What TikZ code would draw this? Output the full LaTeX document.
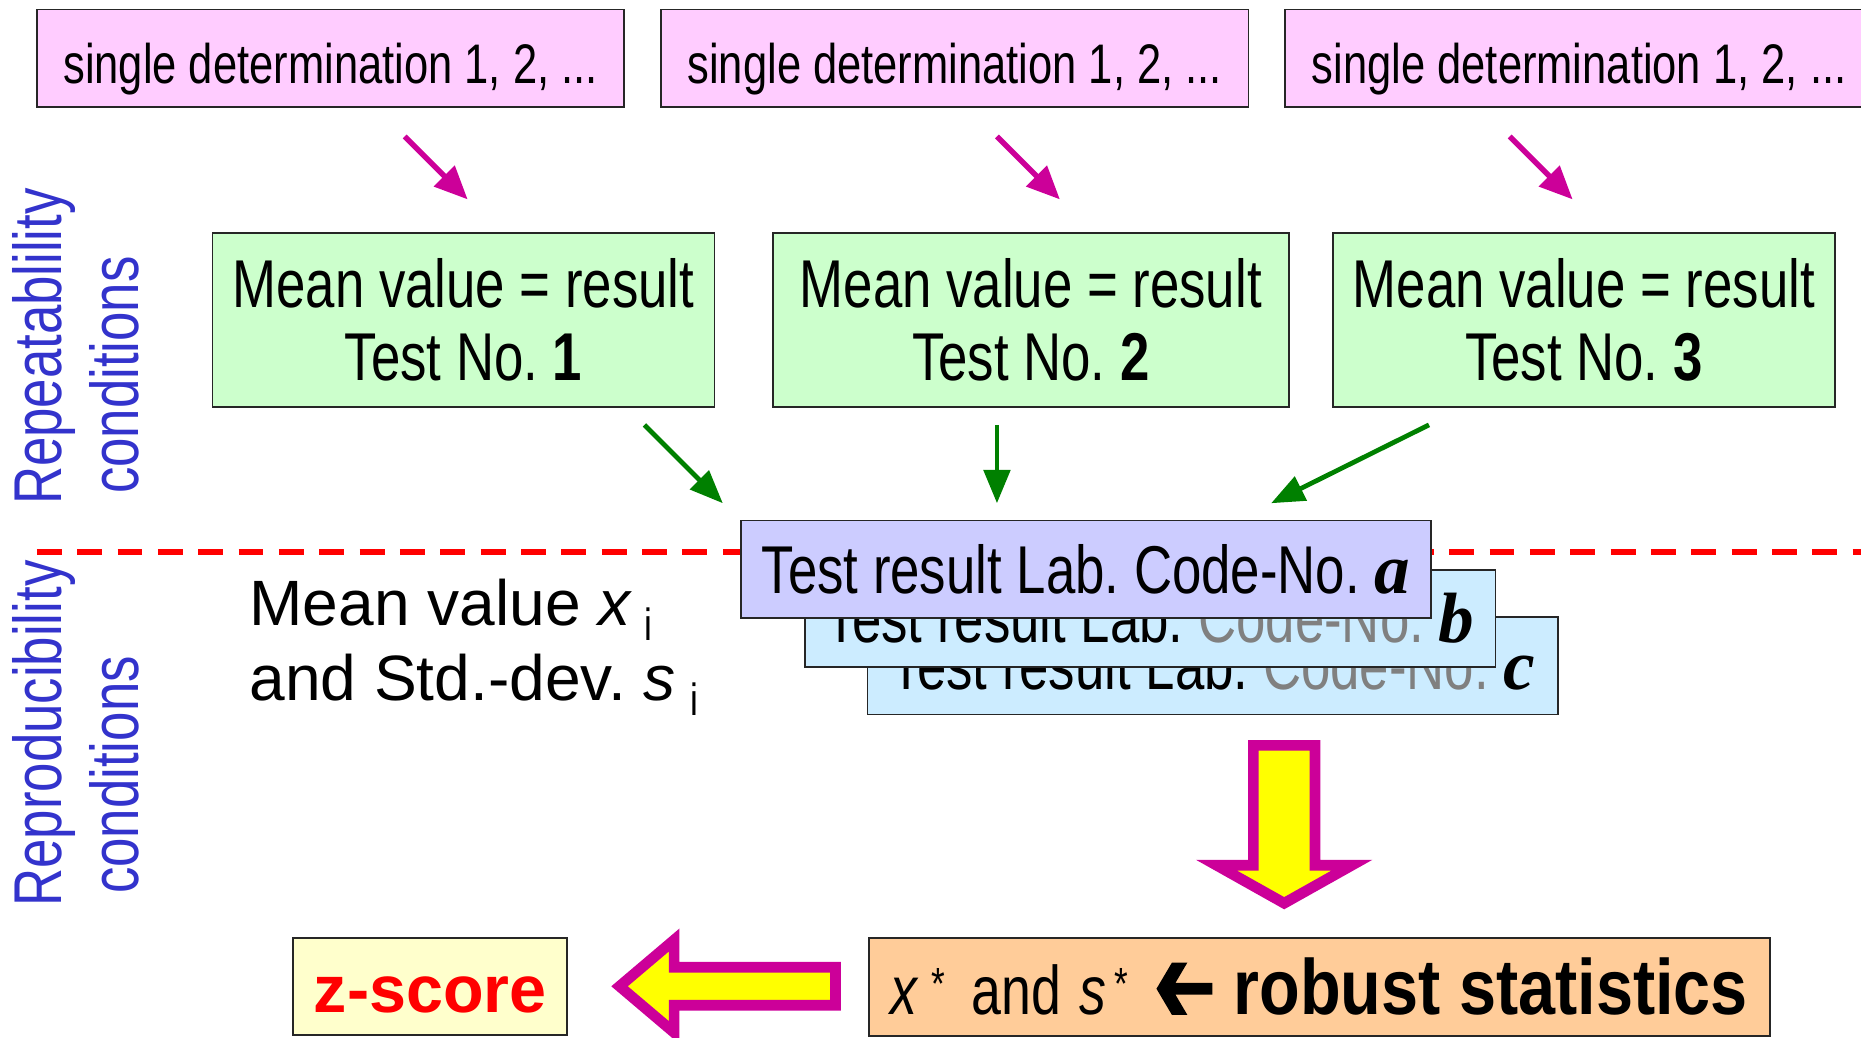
\documentclass[tikz,border=0pt]{standalone}
\usepackage{fontspec}
\setmainfont{Liberation Sans}
\newfontfamily\nf[FakeStretch=0.78]{Liberation Sans}
\newfontfamily\nfb[FakeStretch=0.85]{Liberation Sans Bold}
\newfontfamily\sbi{Liberation Serif}
\usetikzlibrary{arrows.meta,calc}
\definecolor{pinkf}{HTML}{FFCCFF}
\definecolor{greenf}{HTML}{CCFFCC}
\definecolor{lavf}{HTML}{CCCCFF}
\definecolor{bluef}{HTML}{CCECFF}
\definecolor{magc}{HTML}{CC0099}
\definecolor{grnc}{HTML}{008000}
\definecolor{bluet}{HTML}{3333CC}
\definecolor{yelf}{HTML}{FFFFCC}
\definecolor{orf}{HTML}{FFCC99}
\definecolor{yel}{HTML}{FFFF00}
\definecolor{redc}{HTML}{FF0000}
\frenchspacing
\tikzset{
  boxbase/.style={draw=black!85, line width=1.5pt, inner sep=0pt, outer sep=0pt, align=center},
  pinkbox/.style={boxbase, fill=pinkf, minimum width=495pt, minimum height=82pt, font=\nf\fontsize{47}{52}\selectfont},
  greenbox/.style={boxbase, fill=greenf, minimum height=147pt, font=\nf\fontsize{57}{62}\selectfont},
  labbox/.style={boxbase, minimum width=582pt, minimum height=82pt, font=\nf\fontsize{57}{62}\selectfont},
  magarrow/.style={draw=magc, line width=4.5pt, -{Triangle[length=28pt,width=24pt]}},
  grnarrow/.style={draw=grnc, line width=4pt, -{Triangle[length=28pt,width=22pt]}},
  sidelabel/.style={rotate=90, anchor=base, text=bluet, inner sep=0pt, font=\nf\fontsize{57}{62}\selectfont},
  blockarrow/.style={draw=magc, fill=yel, line width=9pt, miter limit=20},
  plaintext/.style={anchor=base west, inner sep=0pt, font=\fontsize{54}{62}\selectfont},
}
\newcommand{\labletter}[1]{{\sbi\bfseries\itshape\fontsize{60}{62}\selectfont #1}}
\newcommand{\sdtext}{\raisebox{-9pt}[\height][\depth]{single determination 1, 2, ...}}
\newcommand{\starsup}{\raisebox{13pt}{\fontsize{38}{38}\selectfont *}}
\newcommand{\boldleft}{\tikz[x=1pt,y=1pt,baseline=0pt]\fill[black] (0,22) -- (13,44) -- (26,44) -- (16,27) -- (47,27) -- (47,17) -- (16,17) -- (26,0) -- (13,0) -- cycle;}
\begin{document}
\begin{tikzpicture}[x=1pt,y=-1pt]
\useasboundingbox (0,0) rectangle (1568,874);

% top pink boxes
\node[pinkbox] (p1) at (278.5,49) {\sdtext};
\node[pinkbox] (p2) at (804.5,49) {\sdtext};
\node[pinkbox] (p3) at (1330.5,49) {\sdtext};

% green boxes
\node[greenbox, minimum width=423pt] (g1) at (390.5,269.5) {Mean value = result\\Test No. \textbf{1}};
\node[greenbox, minimum width=435pt] (g2) at (868.5,269.5) {Mean value = result\\Test No. \textbf{2}};
\node[greenbox, minimum width=423pt] (g3) at (1334.5,269.5) {Mean value = result\\Test No. \textbf{3}};

% magenta arrows
\coordinate (m1s) at (341,115); \coordinate (m1e) at (394,168);
\coordinate (m2s) at (840,115); \coordinate (m2e) at (893,168);
\coordinate (m3s) at (1272,115); \coordinate (m3e) at (1325,168);
\draw[magarrow] (m1s) -- (m1e);
\draw[magarrow] (m2s) -- (m2e);
\draw[magarrow] (m3s) -- (m3e);

% green arrows
\coordinate (a1s) at (543,358); \coordinate (a1e) at (609,424);
\coordinate (a2s) at (840,358); \coordinate (a2e) at (840,424);
\coordinate (a3s) at (1204,358); \coordinate (a3e) at (1071,424);
\draw[grnarrow] (a1s) -- (a1e);
\draw[grnarrow] (a2s) -- (a2e);
\draw[grnarrow] (a3s) -- (a3e);

% dashed separator
\coordinate (dl1) at (31,465); \coordinate (dl2) at (1575,465);
\draw[redc, line width=5pt, dash pattern=on 21pt off 13pt] (dl1) -- (dl2);

% side labels
\node[sidelabel] (rep1) at (52,292) {Repeatablility};
\node[sidelabel] (rep2) at (117,316) {conditions};
\node[sidelabel] (repr1) at (52,618) {Reproducibility};
\node[sidelabel] (repr2) at (117,653) {conditions};

% lab result stack
\node[labbox, fill=bluef] (lc) at (1022,561) {Test result Lab. \textcolor{gray}{Code-No.} \labletter{c}};
\node[labbox, fill=bluef] (lb) at (969,521) {Test result Lab. \textcolor{gray}{Code-No.} \labletter{b}};
\node[labbox, fill=lavf] (la) at (915,479.5) {Test result Lab. Code-No. \labletter{a}};

% mean value / std dev
\node[plaintext] (mv) at (210,527) {Mean value \textit{x}\hspace{10pt}\raisebox{-13pt}{\nf\fontsize{38}{38}\selectfont i}};
\node[plaintext] (sd) at (210,590) {and Std.-dev. \textit{s}\hspace{12pt}\raisebox{-13pt}{\nf\fontsize{38}{38}\selectfont i}};

% down block arrow
\filldraw[blockarrow] (1056,628) -- (1108,628) -- (1108,729) -- (1139,729) -- (1082,761) -- (1025,729) -- (1056,729) -- cycle;

% bottom boxes
\node[boxbase, fill=yelf, minimum width=231pt, minimum height=82pt, text=redc, font=\bfseries\fontsize{56}{60}\selectfont] (zs) at (362.5,831) {\raisebox{-7pt}[\height][\depth]{z-score}};
\node[boxbase, fill=orf, minimum width=759pt, minimum height=83pt, font=\nf\fontsize{58}{62}\selectfont] (rs) at (1111.5,831.5) {\textit{x}\hspace{11pt}\starsup\hspace{22pt}and\hspace{15pt}\textit{s}\hspace{7pt}\starsup\hspace{24pt}\boldleft\hspace{18pt}{\nfb\fontsize{66}{66}\selectfont robust statistics}};

% left block arrow
\filldraw[blockarrow] (704,815) -- (568,815) -- (568,792) -- (522,831) -- (568,870) -- (568,847) -- (704,847) -- cycle;
\end{tikzpicture}
\end{document}
